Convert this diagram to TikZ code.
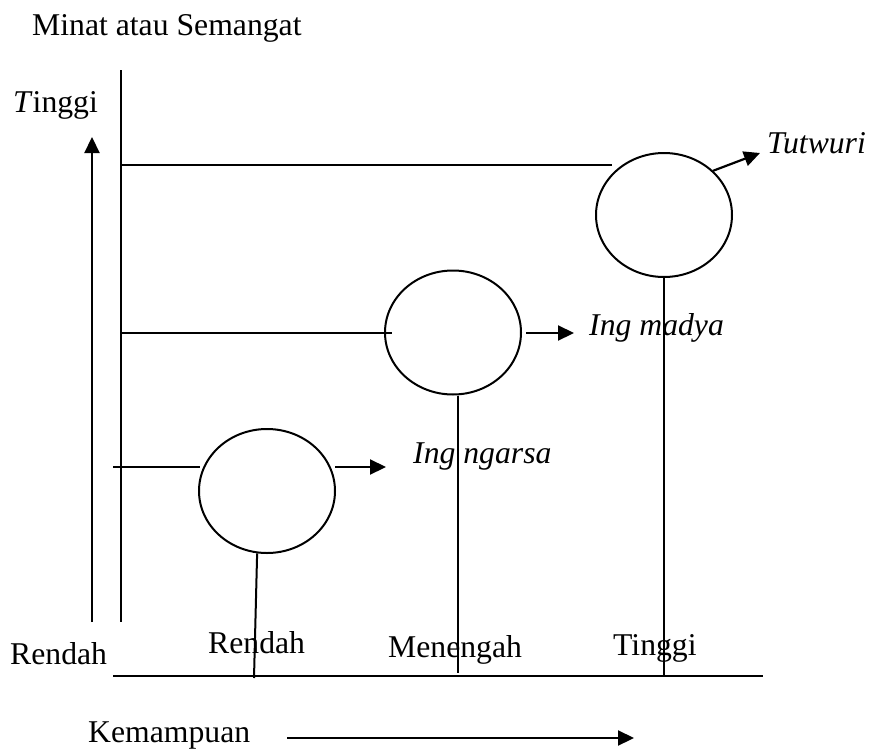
\documentclass[tikz,border=0pt]{standalone}
\usepackage{fontspec}
\setmainfont{Liberation Serif}
\usetikzlibrary{arrows.meta,shapes.geometric}
\begin{document}
\begin{tikzpicture}[x=1pt,y=-1pt,
  line/.style={line width=2pt},
  arr/.style={line width=2.2pt,-{Triangle[length=16pt,width=15pt]}},
  bubble/.style={draw,ellipse,line width=2pt,minimum width=136pt,minimum height=124pt,inner sep=0pt},
  lbl/.style={anchor=base west,inner sep=0pt,font=\fontsize{31.7}{38}\selectfont},
  ilbl/.style={lbl,font=\fontsize{31.7}{38}\selectfont\itshape}]
\useasboundingbox (0,0) rectangle (871,750);

% titles and labels
\node[lbl] (title) at (32,35) {Minat atau Semangat};
\node[lbl] (hi) at (13,112) {\textit{T}inggi};
\node[lbl] (lo) at (10,664) {Rendah};
\node[lbl] (xlo) at (208,653) {Rendah};
\node[lbl] (xmid) at (388,657) {Menengah};
\node[lbl] (xhi) at (613,655) {Tinggi};
\node[lbl] (xname) at (88,742) {Kemampuan};
\node[ilbl] (tut) at (767,153) {Tutwuri};
\node[ilbl] (mad) at (589,335) {Ing madya};
\node[ilbl] (nga) at (413,463) {Ing ngarsa};

% the three circles
\node[bubble] (c1) at (664,215) {};
\node[bubble] (c2) at (453,332.5) {};
\node[bubble] (c3) at (267,491) {};

% axes
\coordinate (ytop) at (121,70);
\coordinate (ybot) at (121,622);
\coordinate (upS) at (92,622);
\coordinate (upE) at (92,137);
\coordinate (xl) at (113,676);
\coordinate (xr) at (763,676);
\coordinate (kS) at (287,738);
\coordinate (kE) at (634,738);
\draw[line] (ytop) -- (ybot);
\draw[line] (xl) -- (xr);
\draw[arr] (upS) -- (upE);
\draw[arr] (kS) -- (kE);

% level lines to each circle
\coordinate (h1s) at (121,165);
\coordinate (h1e) at (612,165);
\coordinate (h2s) at (121,333);
\coordinate (h2e) at (392,333);
\coordinate (h3s) at (113,467);
\coordinate (h3e) at (200,467);
\draw[line] (h1s) -- (h1e);
\draw[line] (h2s) -- (h2e);
\draw[line] (h3s) -- (h3e);

% drop lines to the ability axis
\coordinate (d1) at (664,676);
\coordinate (d2) at (458,673);
\coordinate (d3) at (254,678);
\draw[line] (c1.south) -- (d1);
\draw[line] (d2 |- c2.south) -- (d2);
\draw[line] (c3.-99) -- (d3);

% arrows to the labels
\coordinate (a1) at (760,153);
\coordinate (a2s) at (526,333);
\coordinate (a2) at (574,333);
\coordinate (a3s) at (335,467);
\coordinate (a3) at (386,467);
\draw[arr] (c1.42) -- (a1);
\draw[arr] (a2s) -- (a2);
\draw[arr] (a3s) -- (a3);
\end{tikzpicture}
\end{document}
